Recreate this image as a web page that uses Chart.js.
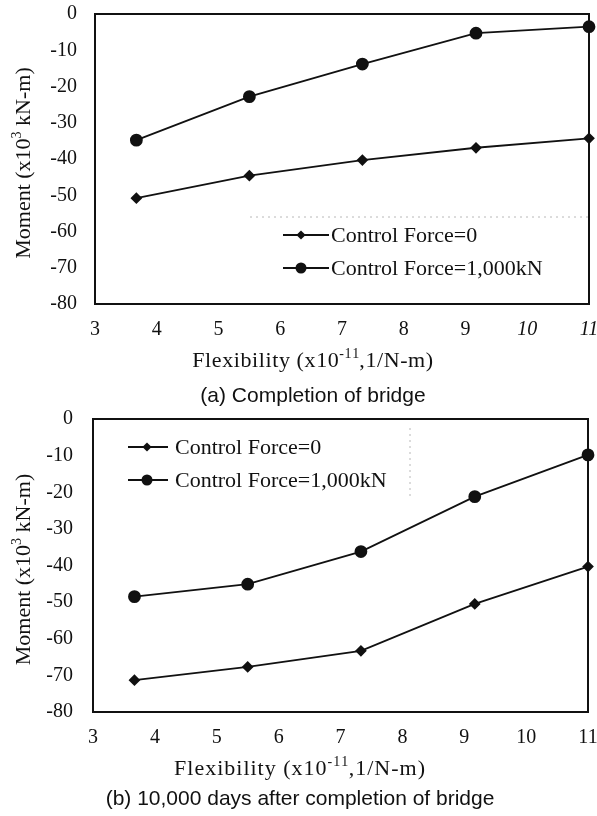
<!DOCTYPE html>
<html>
<head>
<meta charset="utf-8">
<script src="https://cdn.jsdelivr.net/npm/chart.js@4/dist/chart.umd.min.js"></script>
<style>
  html,body{margin:0;padding:0;background:#fff;}
  #wrap{position:relative;width:597px;height:816px;}
  .box{position:absolute;left:0;width:597px;}
</style>
</head>
<body>
<div id="wrap">
  <div class="box" style="top:0;height:420px"><canvas id="chartA" width="597" height="420"></canvas></div>
  <div class="box" style="top:400px;height:416px"><canvas id="chartB" width="597" height="416"></canvas></div>
</div>
<script>
// ============ DATA ============
const flexibility = [3.67, 5.5, 7.33, 9.17, 11];
const seriesNames = ['Control Force=0', 'Control Force=1,000kN'];
const momentA_force0 = [-50.8, -44.6, -40.3, -36.9, -34.3];
const momentA_force1000 = [-34.8, -22.8, -13.8, -5.3, -3.5];
const momentB_force0 = [-71.3, -67.7, -63.3, -50.5, -40.3];
const momentB_force1000 = [-48.5, -45.1, -36.2, -21.2, -9.8];
const xTickRange = [3, 11];
const yTickRange = [-80, 0];

const SERIF = '"Liberation Serif", "Times New Roman", serif';
const SANS = '"Liberation Sans", Arial, sans-serif';

// draw a run of text pieces centred on x; piece: [text, sup?]
function richText(ctx, pieces, x, y, size, family, spacing) {
  spacing = spacing || 0;
  const fontOf = p => (p[1] ? Math.round(size*0.62) : size)+'px '+family;
  let total = 0;
  const widths = pieces.map(p=>{
    ctx.font = fontOf(p);
    const w = ctx.measureText(p[0]).width + spacing*p[0].length;
    total += w; return w;
  });
  let cx = x - total/2;
  ctx.textBaseline = 'alphabetic'; ctx.textAlign = 'left';
  pieces.forEach((p,i)=>{
    ctx.font = fontOf(p);
    const yy = y - (p[1] ? size*0.42 : 0);
    if(spacing) { let xx = cx; for(const ch of p[0]) { ctx.fillText(ch, xx, yy); xx += ctx.measureText(ch).width+spacing; } }
    else ctx.fillText(p[0], cx, yy);
    cx += widths[i];
  });
}

function drawMarker(ctx, style, x, y) {
  ctx.beginPath();
  if(style==='circle') ctx.arc(x, y, 5.5, 0, Math.PI*2);
  else { ctx.moveTo(x, y-4.6); ctx.lineTo(x+4.6, y); ctx.lineTo(x, y+4.6); ctx.lineTo(x-4.6, y); ctx.closePath(); }
  ctx.fill();
}

const decor = {
  id:'decor',
  beforeDatasetsDraw(chart, args, o) {
    const {ctx, chartArea:a} = chart;
    ctx.save();
    // faint leftovers of the legend box
    ctx.strokeStyle = '#b8b8b8'; ctx.lineWidth = 1; ctx.setLineDash([2,4]);
    (o.faint||[]).forEach(l=>{ ctx.beginPath(); ctx.moveTo(l[0],l[1]); ctx.lineTo(l[2],l[3]); ctx.stroke(); });
    ctx.setLineDash([]);
    ctx.strokeStyle = '#111'; ctx.lineWidth = 2;
    ctx.strokeRect(a.left, a.top, a.right-a.left, a.bottom-a.top);
    ctx.restore();
  },
  afterDraw(chart, args, o) {
    const {ctx, chartArea:a} = chart;
    ctx.save();
    ctx.fillStyle = '#111';
    // y title
    ctx.save();
    ctx.translate(o.yTitleX, (a.top+a.bottom)/2 + o.yTitleDy);
    ctx.rotate(-Math.PI/2);
    richText(ctx, [['Moment (x10'],['3',1],[' kN-m)']], 0, 0, 22, SERIF);
    ctx.restore();
    // x title + caption
    richText(ctx, [['Flexibility (x10'],['-11',1],[',1/N-m)']], o.titleX, o.xTitleY, 22, SERIF, o.spacing);
    richText(ctx, [[o.caption]], o.titleX, o.captionY, 21, SANS);
    // legend
    const L = o.legend;
    chart.data.datasets.forEach((ds,i)=>{
      const y = L.y + i*L.gap;
      ctx.strokeStyle = '#111'; ctx.lineWidth = 1.8;
      ctx.beginPath(); ctx.moveTo(L.x, y); ctx.lineTo(L.x+L.len, y); ctx.stroke();
      ctx.fillStyle = '#111';
      drawMarker(ctx, ds.pointStyle, L.x+L.mark, y);
      ctx.font = '22px '+SERIF; ctx.textBaseline = 'middle'; ctx.textAlign = 'left';
      ctx.fillText(ds.label, L.x+L.len+L.textGap, y+1);
    });
    ctx.restore();
  }
};

function makeChart(id, f0, f1000, pad, yWidth, xHeight, tickPad, italicFrom, deco) {
  return new Chart(document.getElementById(id), {
    type:'line',
    data:{ datasets:[
      { label:seriesNames[0], data:flexibility.map((x,i)=>({x, y:f0[i]})), borderColor:'#111', backgroundColor:'#111', borderWidth:1.8, pointStyle:'rectRot', pointRadius:4.6, pointHoverRadius:4.6, tension:0, clip:false },
      { label:seriesNames[1], data:flexibility.map((x,i)=>({x, y:f1000[i]})), borderColor:'#111', backgroundColor:'#111', borderWidth:1.8, pointStyle:'circle', pointRadius:5.5, pointHoverRadius:5.5, tension:0, clip:false }
    ]},
    options:{
      responsive:false, animation:false, events:[],
      layout:{ padding:pad },
      plugins:{ legend:{display:false}, tooltip:{enabled:false}, decor:deco },
      scales:{
        x:{ type:'linear', min:xTickRange[0], max:xTickRange[1], grid:{display:false, drawTicks:false}, border:{display:false},
            ticks:{ stepSize:1, color:'#111', padding:tickPad[0],
                    font:c=>({family:SERIF, size:20, style:(c.tick && c.tick.value>=italicFrom)?'italic':'normal'}) },
            afterFit:s=>{ s.height = xHeight; s.paddingLeft = 0; s.paddingRight = 0; } },
        y:{ min:yTickRange[0], max:yTickRange[1], grid:{display:false, drawTicks:false}, border:{display:false},
            ticks:{ stepSize:10, color:'#111', padding:tickPad[1], font:{family:SERIF, size:20} },
            afterFit:s=>{ s.width = yWidth; s.paddingTop = 0; s.paddingBottom = 0; } }
      }
    },
    plugins:[decor]
  });
}

makeChart('chartA', momentA_force0, momentA_force1000,
  {left:0, top:14, right:8, bottom:0}, 95, 116, [14, 18], 10,
  { yTitleX:30, yTitleDy:4, titleX:313, xTitleY:367, captionY:402, caption:'(a) Completion of bridge', spacing:0.6,
    legend:{x:283, y:235, gap:33, len:46, mark:18, textGap:2}, faint:[[250,217,589,217]] });

makeChart('chartB', momentB_force0, momentB_force1000,
  {left:0, top:19, right:9, bottom:0}, 93, 104, [14, 20], 99,
  { yTitleX:30, yTitleDy:4, titleX:300, xTitleY:375, captionY:405, caption:'(b) 10,000 days after completion of bridge', spacing:1,
    legend:{x:128, y:47, gap:33, len:40, mark:19, textGap:7}, faint:[[410,28,410,98]] });
</script>
</body>
</html>
